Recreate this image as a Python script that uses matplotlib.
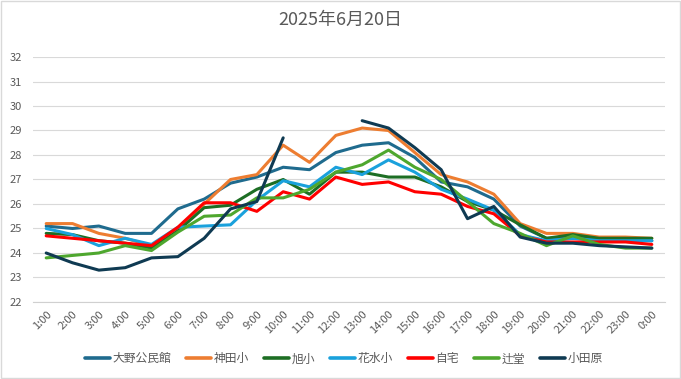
import numpy as np
import matplotlib
matplotlib.use("Agg")
import matplotlib.pyplot as plt
from matplotlib.patches import Rectangle

plt.rcParams['font.family'] = ['Noto Sans CJK JP', 'DejaVu Sans']

# データ
hours = ['1:00', '2:00', '3:00', '4:00', '5:00', '6:00', '7:00', '8:00',
         '9:00', '10:00', '11:00', '12:00', '13:00', '14:00', '15:00', '16:00',
         '17:00', '18:00', '19:00', '20:00', '21:00', '22:00', '23:00', '0:00']

ono = [25.1, 25.0, 25.1, 24.8, 24.8, 25.8, 26.2, 26.85, 27.1, 27.5, 27.4, 28.1,
       28.4, 28.5, 27.9, 26.9, 26.7, 26.2, 25.1, 24.6, 24.6, 24.6, 24.6, 24.5]
kanda = [25.2, 25.2, 24.8, 24.6, 24.3, 25.0, 26.0, 27.0, 27.2, 28.4, 27.7, 28.8,
         29.1, 29.0, 28.1, 27.2, 26.9, 26.4, 25.2, 24.8, 24.8, 24.65, 24.65, 24.6]
asahi = [24.8, 24.75, 24.5, 24.4, 24.2, 24.9, 25.85, 25.95, 26.6, 27.0, 26.4, 27.3,
         27.3, 27.1, 27.1, 26.7, 26.1, 25.75, 25.15, 24.6, 24.75, 24.6, 24.6, 24.6]
hanamizu = [25.0, 24.75, 24.3, 24.6, 24.35, 25.05, 25.1, 25.15, 26.15, 26.95, 26.7, 27.5,
            27.2, 27.8, 27.3, 26.6, 26.2, 25.75, 24.75, 24.5, 24.6, 24.5, 24.5, 24.5]
jitaku = [24.7, 24.6, 24.5, 24.4, 24.3, 25.05, 26.05, 26.05, 25.7, 26.5, 26.2, 27.1,
          26.8, 26.9, 26.5, 26.4, 25.9, 25.6, 24.7, 24.45, 24.45, 24.45, 24.45, 24.35]
tsujido = [23.8, 23.9, 24.0, 24.3, 24.1, 24.85, 25.5, 25.55, 26.25, 26.25, 26.6, 27.3,
           27.6, 28.2, 27.5, 27.0, 26.1, 25.2, 24.8, 24.3, 24.7, 24.35, 24.2, 24.2]
odawara = [24.0, 23.6, 23.3, 23.4, 23.8, 23.85, 24.6, 25.8, 26.1, 28.7, np.nan, np.nan,
           29.4, 29.1, 28.3, 27.4, 25.4, 25.9, 24.65, 24.4, 24.4, 24.3, 24.25, 24.2]

series = [
    ('大野公民館', ono, '#1f6b8e'),
    ('神田小', kanda, '#ed7d31'),
    ('旭小', asahi, '#1d6e24'),
    ('花水小', hanamizu, '#1aa1dc'),
    ('自宅', jitaku, '#ff0000'),
    ('辻堂', tsujido, '#4ea72e'),
    ('小田原', odawara, '#0f3a52'),
]


def main():
    fig = plt.figure(figsize=(6.81, 3.79), dpi=100)
    ax = fig.add_axes([0.0485, 0.2032, 0.928, 0.6464])

    x = np.arange(len(hours))
    for name, vals, color in series:
        ax.plot(x, vals, color=color, linewidth=2.2, label=name,
                solid_capstyle='round', solid_joinstyle='round')

    ax.set_xlim(-0.5, len(hours) - 0.5)
    ax.set_ylim(22, 32)
    ax.set_yticks(range(22, 33))
    ax.set_xticks(x)
    ax.set_xticklabels(hours, rotation=45, ha='right', rotation_mode='anchor')
    ax.tick_params(axis='both', length=0, labelsize=8, labelcolor='#595959')
    ax.tick_params(axis='y', pad=8)
    ax.tick_params(axis='x', pad=5)

    ax.grid(axis='y', color='#d9d9d9', linewidth=0.8)
    ax.set_axisbelow(True)
    for s in ['top', 'right', 'left']:
        ax.spines[s].set_visible(False)
    ax.spines['bottom'].set_color('#d0d0d0')
    ax.spines['bottom'].set_linewidth(0.8)

    fig.text(0.5, 0.947, '2025年6月20日', ha='center', va='center',
             fontsize=13, color='#595959')

    leg = fig.legend(loc='center', bbox_to_anchor=(0.505, 0.053), ncol=7, frameon=False,
                     fontsize=8.5, handlelength=2.1, handletextpad=0.25,
                     columnspacing=1.25, labelcolor='#595959')
    for h in leg.get_lines():
        h.set_linewidth(2.6)

    fig.patches.append(Rectangle((0.002, 0.003), 0.996, 0.994, transform=fig.transFigure,
                                 fill=False, edgecolor='#d9d9d9', linewidth=1))

    fig.savefig('out.png', dpi=100)


if __name__ == "__main__":
    main()
